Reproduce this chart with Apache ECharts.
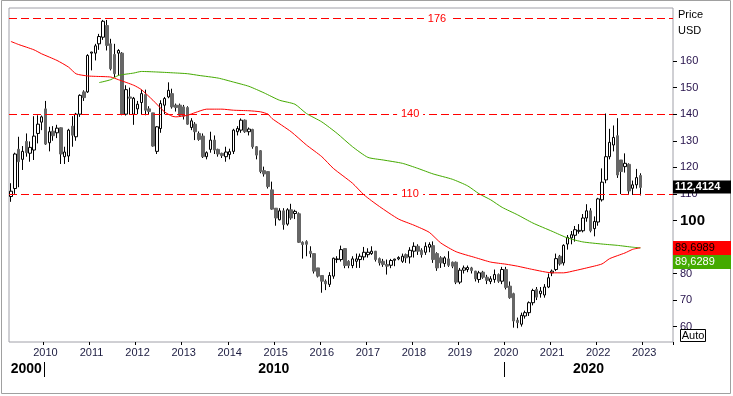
<!DOCTYPE html>
<html>
<head>
<meta charset="utf-8">
<title>Price USD</title>
<script src="https://cdn.jsdelivr.net/npm/echarts@6.0.0/dist/echarts.min.js"></script>
<style>
  html, body { margin: 0; padding: 0; background: #fff; }
  #chart { width: 733px; height: 396px; }
</style>
</head>
<body>
<div id="chart"></div>
<script>
// monthly candles, first one is 2009-04
var firstMonth = [2009, 4];
var monthCount = 173; // axis runs on to 2023-08

// [open, close, low, high]
var candles = [
    [109, 111, 107, 114], [112, 125, 110, 125.5], [126.8, 122.1, 112.5, 131.5], [123, 126, 119, 128],
    [129.75, 125.5, 124, 132.75], [125.3, 127.5, 122.1, 129.75], [126.5, 131.75, 122.75, 139.25], [132.75, 136.25, 129, 139.6],
    [137, 139, 134, 139.5], [142, 128.75, 128.4, 145], [129.25, 133.4, 126, 135.25], [133.6, 131.9, 130, 135.5],
    [133, 134.75, 131, 136], [134.9, 125, 121.25, 135], [124, 125.75, 121.25, 127.75], [124.25, 134, 122, 134.5],
    [135.5, 132.1, 127.75, 139.25], [131.5, 140, 130, 140.5], [140, 147.1, 139, 147.5], [148.4, 146.25, 145, 149],
    [148.4, 162.1, 148, 162.6], [163, 163.4, 156.5, 163.5], [163, 165.75, 160.25, 166.5], [166.5, 169.25, 164.25, 170.25],
    [169, 175, 168, 175.5], [173.4, 165.9, 164, 175.5], [166.5, 157.1, 156.5, 168.4], [162.5, 155.25, 154, 166.5],
    [163, 164, 154.6, 164.5], [163, 140, 139.6, 163.4], [140, 149.25, 139.5, 150.9], [146.5, 146, 140, 150],
    [140, 146, 136, 146.5], [142, 143.75, 140, 145], [144.4, 147.75, 140, 149.25], [147.4, 141.5, 139.6, 149.25],
    [142, 141, 140, 143], [140.5, 128, 127.75, 140.5], [126, 135.25, 125, 135.5], [134.6, 144, 133, 145.25],
    [143.4, 145.9, 140, 146.5], [146.5, 149, 146, 152], [147.75, 142.75, 142.1, 149.6], [143.4, 142.5, 141, 144],
    [143.4, 139.6, 139, 144], [142.75, 139.25, 138, 143.5], [142.5, 136.25, 136, 143], [135, 137.5, 134, 138.5],
    [136.25, 133.4, 130.25, 137], [132.75, 130.5, 130, 133.5], [131.75, 124, 123.5, 132.75], [124, 125.5, 123, 126],
    [126.75, 130.25, 125.5, 133.4], [130.25, 126.5, 125, 132], [126.75, 125, 124, 127], [125.25, 124.4, 123.5, 125.5],
    [124, 125.75, 122.1, 127.75], [124.8, 125.9, 123, 127], [126, 134, 125, 134.5], [133.4, 134.6, 132, 135.5],
    [134, 137.75, 133, 138.4], [137.75, 133.4, 133, 138], [133.4, 134.4, 132, 135], [134.25, 127.75, 127, 134.5],
    [127.75, 124.6, 123, 128], [126.25, 118.4, 117.75, 126.5], [118.75, 117.5, 116.5, 120.25], [118.4, 112.75, 112, 118.5],
    [111.5, 104.25, 104, 114.6], [104.6, 100.9, 98, 104.6], [100.25, 103.6, 100, 104.6], [103.6, 98.4, 96.5, 104.6],
    [98.6, 104, 98, 104.6], [104, 100.9, 100.25, 106.25], [102.6, 103.4, 100.5, 104], [102.5, 91.75, 91.5, 103],
    [91.75, 90.9, 85.6, 92.1], [92, 91, 86.5, 92.5], [88.4, 87.5, 86, 90.25], [87.5, 80.9, 80, 87.5],
    [82.1, 79, 78.5, 82.1], [79.25, 77.1, 72.75, 79.25], [77.1, 76.1, 73.75, 77.75], [75.9, 79.25, 74.9, 80.5],
    [79, 85.75, 78, 86], [85.25, 85.5, 84, 86.5], [85.25, 89, 84.5, 90.5], [89.4, 83, 82, 89.6],
    [84.6, 83, 82, 85], [83, 85.5, 82, 86.5], [84.6, 85.5, 82.1, 87.5], [85.25, 86.5, 82.1, 87.5],
    [86.25, 88, 85, 90], [87.1, 88, 86, 89.5], [87.5, 88.4, 87, 90.25], [88.4, 85.25, 84.5, 88.5],
    [85.6, 84, 83, 86], [84.6, 83.4, 82.5, 85.5], [83.4, 82.75, 79.6, 85.25], [83.1, 84.9, 82, 85.5],
    [85, 85.4, 82.75, 85.6], [85.5, 86, 85, 86.5], [84.6, 86.5, 84, 87.5], [87.1, 85.9, 84, 87.5],
    [86.25, 88.75, 83.75, 89.9], [88.4, 90.25, 86, 91.75], [90.25, 88.4, 87, 91], [88.75, 87.1, 86, 89.5],
    [88, 90.25, 87, 91.75], [89.9, 90.9, 88, 91.75], [90.5, 85.25, 84, 92.1], [87.5, 82.1, 81, 88],
    [85.9, 84, 82.1, 86.5], [83.75, 85.9, 82.5, 86.5], [85.5, 83.1, 82.5, 88.4], [84.25, 82.75, 82, 84.5],
    [84.25, 76.75, 76, 84.5], [76.75, 81.25, 76, 82.1], [81.25, 82.1, 80, 83], [81.5, 82.25, 80.5, 83],
    [82.1, 81.1, 80, 82.5], [80.9, 78, 77, 81], [77.75, 80.25, 76.5, 81], [80.5, 78.6, 78, 81],
    [78.6, 77.4, 76, 79.5], [77, 78, 76, 79], [77.75, 79.6, 76.5, 81.5], [79.6, 77.1, 76.5, 80],
    [77.1, 81.5, 76, 82.5], [81.5, 74.75, 74, 82.5], [75.25, 70.9, 70.5, 77], [72.4, 62.1, 59.6, 72.75],
    [62.4, 61.5, 59.4, 63.4], [60.9, 64.25, 60, 65.25], [64, 65.25, 63, 66], [65.25, 69, 64, 69.5],
    [69, 73.6, 68, 74.25], [74, 71.1, 70, 74.9], [72.4, 73.4, 70.9, 74.9], [71.9, 74.9, 70.9, 76],
    [74.9, 78.4, 74.5, 80], [80.25, 80.9, 79, 81.5], [81.5, 85.6, 80.9, 87.5], [86.5, 83.6, 83, 87],
    [84, 90.6, 83, 91], [91.1, 93.6, 89, 94.5], [93.4, 94.6, 91, 96], [94.4, 96.5, 92, 97.9],
    [95.9, 96.25, 95, 98.6], [96.1, 100.9, 95.5, 102.4], [100.9, 103.6, 99.5, 106.1], [103.6, 96.1, 95.5, 104.6],
    [96.9, 99.6, 94, 101.5], [99.4, 108.1, 98, 108.5], [107.75, 114.4, 107.1, 119.6], [115.25, 124, 114, 140.25],
    [124, 129.4, 123, 134.5], [128.4, 131.25, 126, 135.75], [131.9, 117.1, 116, 138.5], [122.75, 118.4, 109.9, 122.75],
    [120.25, 121.5, 118, 125.25], [121.1, 111.1, 110, 121.5], [112.1, 113.4, 109.6, 115], [113.4, 116.1, 112, 119.4],
    [116.9, 112.4124, 109.4, 117.75]
];

// moving averages: [month index, value]
var redMA = [
    [0, 167.4], [2, 166.25], [6, 164.25], [8, 162.75], [12, 160.25], [15, 157.75], [17, 155.2], [20, 154.4],
    [22, 154.25], [26, 154], [28, 153], [32, 150.9], [34, 149.25], [37, 145.25], [40, 140.9], [42, 139.25],
    [43, 139], [46, 139.6], [48, 140.6], [51, 141.9], [55, 141.9], [58, 141.5], [62, 141.3], [65, 140.9],
    [67, 140], [68, 138.4], [73, 133.4], [77, 128.4], [81, 124], [84, 119.6], [89, 114], [92, 109.6],
    [96, 105.25], [101, 100.5], [105, 98.2], [109, 95.5], [112, 91.5], [116, 88.2], [121, 86], [125, 84.3],
    [129, 83.5], [132, 82.75], [136, 81.5], [141, 80.25], [144, 80.25], [147, 81.1], [150, 82.1], [154, 83.6],
    [156, 85.6], [160, 87.75], [162, 89.1], [164, 89.6989]
];
var greenMA = [
    [23, 151.9], [26, 153], [28, 154.6], [32, 155.5], [34, 156.1], [38, 155.9], [42, 155.6], [46, 155.25],
    [49, 154.6], [54, 153.6], [58, 152.1], [62, 150.5], [66, 148], [70, 145.25], [74, 143.75], [77, 140.25],
    [81, 137.1], [85, 132.75], [89, 127.75], [93, 123.75], [97, 122.75], [102, 121.5], [106, 119.6], [110, 117.5],
    [115, 115.5], [119, 113], [122, 110], [125, 107.75], [128, 104.9], [132, 102.1], [136, 99], [141, 95.9],
    [145, 93.4], [149, 91.9], [154, 91.1], [158, 90.6], [162, 89.9], [164, 89.6289]
];

var levels = [176, 140, 110];
var levelLabelAt = [111, 104, 104]; // month index where the level text sits
var yTicks = [60, 70, 80, 90, 100, 110, 120, 130, 140, 150, 160];

var months = [];
for (var i = 0; i < monthCount; i++) {
    var m = firstMonth[1] - 1 + i;
    var yy = firstMonth[0] + Math.floor(m / 12);
    var mm = m % 12 + 1;
    months.push(yy + '-' + (mm < 10 ? '0' : '') + mm);
}

function isJan(idx, value) {
    return value.slice(5) === '01';
}

var bodies = candles.map(function (c) {
    return [c[0], c[1], Math.min(c[0], c[1]), Math.max(c[0], c[1])];
});

var font = '"Liberation Sans", Arial, sans-serif';

var chart = echarts.init(document.getElementById('chart'));

var option = {
    animation: false,
    backgroundColor: '#fff',
    grid: {
        left: 9, right: 60, top: 8, bottom: 54,
        show: true, borderColor: '#a0a0a8', borderWidth: 1, backgroundColor: '#fff'
    },
    xAxis: {
        type: 'category',
        data: months,
        boundaryGap: true,
        axisLine: {show: false},
        axisTick: {show: true, interval: isJan, length: 3, lineStyle: {color: '#000'}},
        axisLabel: {
            interval: isJan,
            margin: 5,
            fontSize: 11,
            fontFamily: font,
            color: '#1c1c40',
            formatter: function (v) { return v.slice(0, 4); }
        },
        splitLine: {show: false}
    },
    yAxis: {
        type: 'value',
        position: 'right',
        min: 54.2,
        max: 180,
        axisLine: {show: false},
        splitLine: {show: false},
        axisTick: {show: true, customValues: yTicks, length: 4, lineStyle: {color: '#000'}},
        axisLabel: {
            customValues: yTicks,
            margin: 7,
            fontSize: 11,
            fontFamily: font,
            color: '#24104a',
            formatter: function (v) {
                return v === 100 ? '{b|100}' : String(v);
            },
            rich: {
                b: {fontSize: 15, fontWeight: 'bold', color: '#000', fontFamily: font}
            }
        }
    },
    series: [
        {
            // wicks
            type: 'candlestick',
            data: candles,
            barWidth: 1,
            silent: true,
            itemStyle: {color: '#000', color0: '#000', borderColor: '#000', borderColor0: '#000', borderWidth: 1},
            markLine: {
                silent: true,
                symbol: 'none',
                label: {show: false},
                lineStyle: {color: '#ff0000', type: [8, 4], width: 1},
                data: levels.map(function (v) { return {yAxis: v}; })
            }
        },
        {
            // bodies
            type: 'candlestick',
            data: bodies,
            barWidth: 3,
            silent: true,
            itemStyle: {color: '#fff', color0: '#666', borderColor: '#000', borderColor0: '#666', borderWidth: 1},
            markPoint: {
                silent: true,
                symbol: 'rect',
                symbolSize: [26, 12],
                itemStyle: {color: '#fff'},
                label: {
                    show: true, position: 'inside', color: '#ff0000', fontSize: 11, fontFamily: font,
                    formatter: function (p) { return String(p.value); }
                },
                data: levels.map(function (v, i) { return {coord: [levelLabelAt[i], v], value: v}; })
            }
        },
        {
            type: 'line',
            data: greenMA,
            smooth: 0.2,
            showSymbol: false,
            silent: true,
            lineStyle: {color: '#44aa00', width: 1}
        },
        {
            type: 'line',
            data: redMA,
            smooth: 0.2,
            showSymbol: false,
            silent: true,
            lineStyle: {color: '#ff0000', width: 1}
        }
    ]
};

chart.setOption(option);

// extra labels placed from the axes themselves
var x0 = chart.convertToPixel({xAxisIndex: 0}, 0);
var bandW = chart.convertToPixel({xAxisIndex: 0}, 1) - x0;
function edge(idx) { return x0 + (idx - 0.5) * bandW; }
var leftX = edge(0);
var rightX = edge(monthCount);
var x2010 = edge(months.indexOf('2010-01'));
var x2020 = edge(months.indexOf('2020-01'));
function yPix(v) { return chart.convertToPixel({yAxisIndex: 0}, v); }

var lastClose = candles[candles.length - 1][1];
var lastRed = redMA[redMA.length - 1][1];
var lastGreen = greenMA[greenMA.length - 1][1];
function fmt(v) { return v.toFixed(4).replace('.', ','); }

var boxX = Math.round(rightX);
var boxW = 731 - boxX;
var yClose = yPix(lastClose);
var yRed = yPix(lastRed);

var decadeStyle = {fontSize: 14, fontWeight: 'bold', fontFamily: '"Liberation Sans Narrow", "Liberation Sans", Arial, sans-serif', fill: '#000', textAlign: 'center', textVerticalAlign: 'middle'};

chart.setOption({
    graphic: [
        {type: 'rect', shape: {x: 1.5, y: 0.5, width: 729, height: 393}, style: {fill: 'none', stroke: '#a0a0a0', lineWidth: 1}, silent: true, z: 1},
        {type: 'text', x: (leftX + x2010) / 2, y: 369, style: Object.assign({text: '2000'}, decadeStyle)},
        {type: 'text', x: (x2010 + x2020) / 2, y: 369, style: Object.assign({text: '2010'}, decadeStyle)},
        {type: 'text', x: (x2020 + rightX) / 2, y: 369, style: Object.assign({text: '2020'}, decadeStyle)},
        {type: 'line', shape: {x1: Math.round(x2010) + 0.5, y1: 362, x2: Math.round(x2010) + 0.5, y2: 377}, style: {stroke: '#000', lineWidth: 1}},
        {type: 'line', shape: {x1: Math.round(x2020) + 0.5, y1: 362, x2: Math.round(x2020) + 0.5, y2: 377}, style: {stroke: '#000', lineWidth: 1}},
        {type: 'text', x: 678, y: 9, style: {text: 'Price', fontSize: 11, fontFamily: font, fill: '#000'}},
        {type: 'text', x: 678, y: 25, style: {text: 'USD', fontSize: 11, fontFamily: font, fill: '#000'}},
        {type: 'rect', z: 100, shape: {x: boxX, y: Math.round(yClose) - 6.5, width: boxW, height: 13}, style: {fill: '#000'}},
        {type: 'text', z: 101, x: boxX + 2, y: yClose, style: {text: fmt(lastClose), fontSize: 11, fontWeight: 'bold', fontFamily: font, fill: '#fff', textVerticalAlign: 'middle'}},
        {type: 'rect', z: 100, shape: {x: boxX, y: Math.round(yRed) - 7, width: boxW, height: 14}, style: {fill: '#ff0000'}},
        {type: 'text', z: 101, x: boxX + 2, y: Math.round(yRed), style: {text: fmt(lastRed), fontSize: 11, fontFamily: font, fill: '#000', textVerticalAlign: 'middle'}},
        {type: 'rect', z: 100, shape: {x: boxX, y: Math.round(yRed) + 7, width: boxW, height: 14}, style: {fill: '#44aa00'}},
        {type: 'text', z: 101, x: boxX + 2, y: Math.round(yRed) + 14, style: {text: fmt(lastGreen), fontSize: 11, fontFamily: font, fill: '#fff', textVerticalAlign: 'middle'}},
        {type: 'rect', z: 100, shape: {x: 680.5, y: 329.5, width: 25, height: 12}, style: {fill: '#fff', stroke: '#000', lineWidth: 1}},
        {type: 'text', z: 101, x: 693, y: 336, style: {text: 'Auto', fontSize: 11, fontFamily: font, fill: '#000', textAlign: 'center', textVerticalAlign: 'middle'}}
    ]
});
</script>
</body>
</html>
